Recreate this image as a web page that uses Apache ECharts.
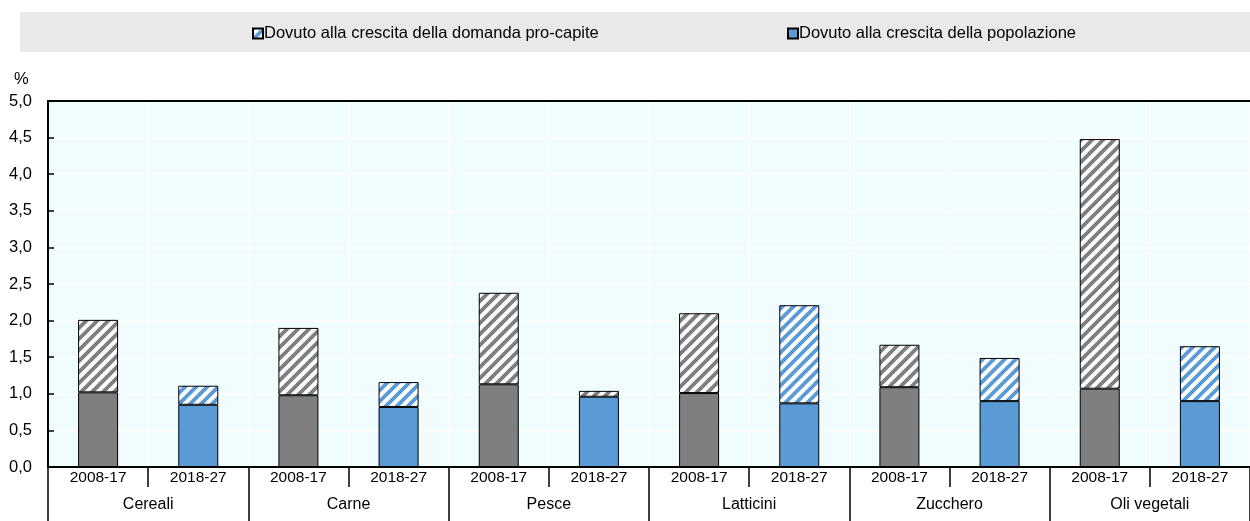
<!DOCTYPE html>
<html>
<head>
<meta charset="utf-8">
<script src="https://cdn.jsdelivr.net/npm/echarts@6/dist/echarts.min.js"></script>
<style>
  html, body { margin: 0; padding: 0; background: #fff; }
  #chart { width: 1250px; height: 521px; }
</style>
</head>
<body>
<div id="chart"></div>
<script>
// data
var groups = ['Cereali', 'Carne', 'Pesce', 'Latticini', 'Zucchero', 'Oli vegetali'];
var periods = ['2008-17', '2018-27'];
var popolazione = [1.02, 0.85, 0.98, 0.82, 1.13, 0.96, 1.01, 0.87, 1.09, 0.90, 1.07, 0.90];
var proCapite = [0.99, 0.26, 0.92, 0.34, 1.25, 0.08, 1.09, 1.34, 0.58, 0.59, 3.41, 0.75];
// which bars of the pro-capite series are drawn grey-hatched
var greyHatch = [true, false, true, false, true, true, true, false, true, false, true, false];

var FONT = 'Liberation Sans, Arial, sans-serif';
var GREY = '#7f7f7f';
var BLUE = '#5b9bd5';

function hatch(color) {
    var c = document.createElement('canvas');
    c.width = 11;
    c.height = 11;
    var ctx = c.getContext('2d');
    ctx.fillStyle = '#ffffff';
    ctx.fillRect(0, 0, 11, 11);
    ctx.strokeStyle = color;
    ctx.lineWidth = 3.8;
    ctx.beginPath();
    ctx.moveTo(-2, 13); ctx.lineTo(13, -2);
    ctx.moveTo(-8, 8); ctx.lineTo(8, -8);
    ctx.moveTo(3, 19); ctx.lineTo(19, 3);
    ctx.stroke();
    return { image: c, repeat: 'repeat' };
}

var categories = [];
groups.forEach(function () { periods.forEach(function (p) { categories.push(p); }); });

var baseData = popolazione.map(function (v, i) {
    return { value: v, itemStyle: { color: i % 2 === 0 ? GREY : BLUE } };
});
var topData = proCapite.map(function (v, i) {
    return { value: v, itemStyle: { color: hatch(greyHatch[i] ? GREY : BLUE) } };
});

var nameTop = 'Dovuto alla crescita della domanda pro-capite';
var nameBase = 'Dovuto alla crescita della popolazione';

echarts.init(document.getElementById('chart')).setOption({
    animation: false,
    textStyle: { fontFamily: FONT },
    title: {
        text: '%',
        left: 9,
        top: 66,
        textStyle: { fontSize: 16.5, fontWeight: 'normal', color: '#000', fontFamily: FONT }
    },
    graphic: [{
        type: 'rect',
        left: 20,
        top: 12,
        shape: { width: 1230, height: 40 },
        style: { fill: '#e9e9e9' },
        z: -10
    }],
    legend: [
        {
            data: [nameTop],
            left: 247,
            top: 20,
            itemWidth: 10,
            itemHeight: 10,
            icon: 'rect',
            textStyle: { fontSize: 16.5, color: '#000', fontFamily: FONT, padding: [0, 0, 0, -4] }
        },
        {
            data: [nameBase],
            left: 782,
            top: 20,
            itemWidth: 10,
            itemHeight: 10,
            icon: 'rect',
            textStyle: { fontSize: 16.5, color: '#000', fontFamily: FONT, padding: [0, 0, 0, -4] }
        }
    ],
    grid: {
        left: 48,
        right: 0,
        top: 101,
        bottom: 54,
        show: true,
        backgroundColor: '#f0fcfd',
        borderWidth: 0
    },
    xAxis: [
        {
            type: 'category',
            data: categories,
            position: 'bottom',
            axisLine: { show: true, lineStyle: { color: '#000', width: 2 } },
            axisTick: { show: true, interval: 0, length: 20, lineStyle: { color: '#000', width: 1.5 } },
            axisLabel: { interval: 0, fontSize: 15.5, color: '#000', margin: 3 },
            splitLine: { show: true, interval: 0, lineStyle: { color: '#ffffff', width: 1.5 } }
        },
        {
            type: 'category',
            data: groups,
            position: 'bottom',
            offset: 20,
            axisLine: { show: false },
            axisTick: { show: true, interval: 0, length: 40, lineStyle: { color: '#000', width: 1.5 } },
            axisLabel: { interval: 0, fontSize: 16, color: '#000', margin: 10 },
            splitLine: { show: false }
        },
        {
            type: 'category',
            data: categories,
            position: 'top',
            axisLine: { show: true, lineStyle: { color: '#000', width: 2 } },
            axisTick: { show: false },
            axisLabel: { show: false }
        }
    ],
    yAxis: {
        type: 'value',
        min: 0,
        max: 5,
        interval: 0.5,
        axisLine: { show: true, lineStyle: { color: '#000', width: 2 } },
        axisTick: { show: true, inside: true, length: 6, lineStyle: { color: '#000', width: 1.5 } },
        axisLabel: {
            fontSize: 16.5,
            color: '#000',
            margin: 16,
            formatter: function (v) { return v.toFixed(1).replace('.', ','); }
        },
        splitLine: { show: true, lineStyle: { color: '#ffffff', width: 1.5 } }
    },
    series: [
        {
            name: nameBase,
            type: 'bar',
            stack: 'tot',
            barWidth: 40,
            itemStyle: { color: BLUE, borderColor: '#000', borderWidth: 1 },
            data: baseData
        },
        {
            name: nameTop,
            type: 'bar',
            stack: 'tot',
            barWidth: 40,
            itemStyle: { color: hatch(BLUE), borderColor: '#000', borderWidth: 1 },
            data: topData
        }
    ]
});
</script>
</body>
</html>
